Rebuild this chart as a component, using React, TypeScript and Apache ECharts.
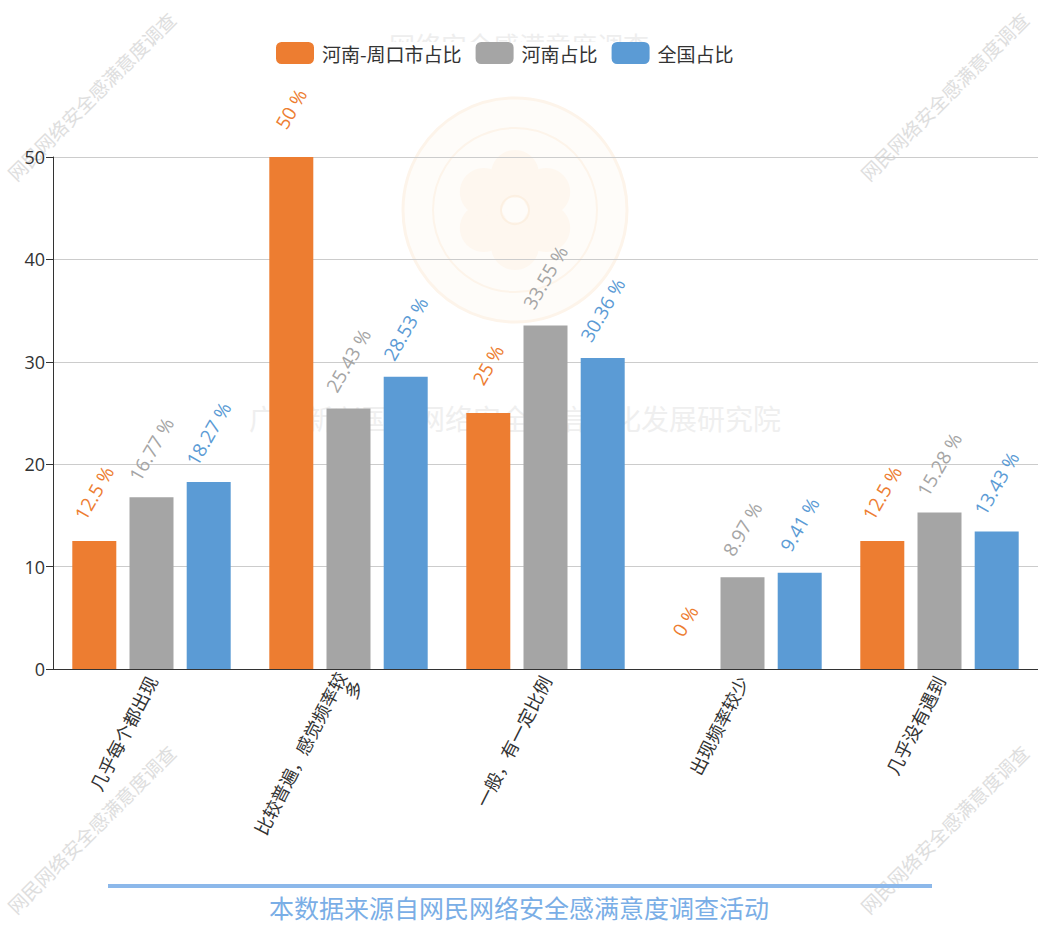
import React, { useEffect, useRef } from "react";
import * as echarts from "echarts";

const categories = ["几乎每个都出现", "比较普遍，感觉频率较多", "一般，有一定比例", "出现频率较少", "几乎没有遇到"];
const seriesNames = ["河南-周口市占比", "河南占比", "全国占比"];
const zhoukou = [12.5, 50, 25, 0, 12.5];
const henan = [16.77, 25.43, 33.55, 8.97, 15.28];
const national = [18.27, 28.53, 30.36, 9.41, 13.43];
const colors = ["#ed7d31", "#a5a5a5", "#5b9bd5"];
const yTicks = { min: 0, max: 50, interval: 10 };
const titleText = "网络安全感满意度调查";
const sourceText = "本数据来源自网民网络安全感满意度调查活动";
const markText = "网民网络安全感满意度调查";
const instituteText = "广东新兴国家网络安全和信息化发展研究院";

export default function App() {
  const ref = useRef<HTMLDivElement>(null);
  useEffect(() => {
    const chart = echarts.init(ref.current!, null, { renderer: "svg" });
    const data = [zhoukou, henan, national];
    const wm = (x: number, y: number) => ({
      type: "text",
      x,
      y,
      rotation: Math.PI / 4,
      z: -10,
      silent: true,
      style: { text: markText, fill: "#dedede", font: "19px 'Noto Sans CJK SC'", align: "center", verticalAlign: "middle" },
    });
    const cx = 515;
    const cy = 210;
    const petals = [0, 1, 2, 3, 4, 5].map((k) => {
      const a = (k * Math.PI) / 3 - Math.PI / 2;
      return {
        type: "circle",
        z: -10,
        silent: true,
        shape: { cx: cx + Math.cos(a) * 36, cy: cy + Math.sin(a) * 36, r: 24 },
        style: { fill: "#fef7ef", stroke: "none" },
      };
    });
    chart.setOption({
      animation: false,
      backgroundColor: "#fff",
      title: {
        text: titleText,
        left: "center",
        top: 26,
        z: 1,
        textStyle: { color: "#eeeeee", fontSize: 26, fontWeight: "normal", fontFamily: "Noto Sans CJK SC" },
      },
      legend: {
        top: 42,
        left: 276,
        padding: 0,
        backgroundColor: "#fff",
        itemWidth: 38,
        itemHeight: 22,
        itemGap: 14,
        data: seriesNames,
        textStyle: { fontSize: 19, color: "#333", fontFamily: "Noto Sans CJK SC", padding: [0, 0, 0, 3] },
      },
      grid: { left: 53, width: 986, top: 157, bottom: 257, containLabel: false },
      xAxis: {
        type: "category",
        data: categories,
        axisLine: { lineStyle: { color: "#333" } },
        axisTick: { length: 7, lineStyle: { color: "#333" } },
        axisLabel: {
          rotate: 63,
          fontSize: 18,
          color: "#333",
          interval: 0,
          width: 190,
          overflow: "break",
          fontFamily: "Noto Sans CJK SC",
        },
      },
      yAxis: {
        type: "value",
        min: yTicks.min,
        max: yTicks.max,
        interval: yTicks.interval,
        axisLine: { show: true, lineStyle: { color: "#333" } },
        axisTick: { show: true, length: 7, lineStyle: { color: "#333" } },
        axisLabel: { fontSize: 18, color: "#333", fontFamily: "Open Sans" },
        splitLine: { lineStyle: { color: "#ccc" } },
      },
      series: seriesNames.map((name, i) => ({
        name,
        type: "bar",
        data: data[i],
        barWidth: 44,
        barGap: "30%",
        itemStyle: { color: colors[i] },
        label: {
          show: true,
          position: "top",
          rotate: 60,
          align: "center",
          verticalAlign: "middle",
          distance: 48,
          formatter: "{c} %",
          color: colors[i],
          fontSize: 19,
          fontFamily: "Open Sans",
        },
      })),
      graphic: [
        wm(91, 96),
        wm(944, 96),
        wm(91, 829),
        wm(944, 829),
        {
          type: "circle",
          z: -10,
          silent: true,
          shape: { cx, cy, r: 112 },
          style: { fill: "rgba(254,249,243,0.5)", stroke: "#fdf4ea", lineWidth: 3 },
        },
        {
          type: "circle",
          z: -10,
          silent: true,
          shape: { cx, cy, r: 82 },
          style: { fill: "none", stroke: "#fdf4ea", lineWidth: 2 },
        },
        ...petals,
        {
          type: "circle",
          z: -10,
          silent: true,
          shape: { cx, cy, r: 14 },
          style: { fill: "none", stroke: "#fcf0e2", lineWidth: 2 },
        },
        {
          type: "text",
          z: -10,
          silent: true,
          x: 515,
          y: 418,
          style: { text: instituteText, fill: "#efefef", font: "28px 'Noto Sans CJK SC'", align: "center", verticalAlign: "middle" },
        },
        {
          type: "rect",
          shape: { x: 108, y: 884, width: 824, height: 4 },
          style: { fill: "#8cb8ea" },
        },
        {
          type: "text",
          x: 519,
          y: 907,
          style: { text: sourceText, fill: "#7aaee6", font: "25px 'Noto Sans CJK SC'", align: "center", verticalAlign: "middle" },
        },
      ],
    });
    return () => chart.dispose();
  }, []);
  return <div ref={ref} style={{ width: 1038, height: 926, position: "absolute", left: 0, top: 0 }} />;
}
